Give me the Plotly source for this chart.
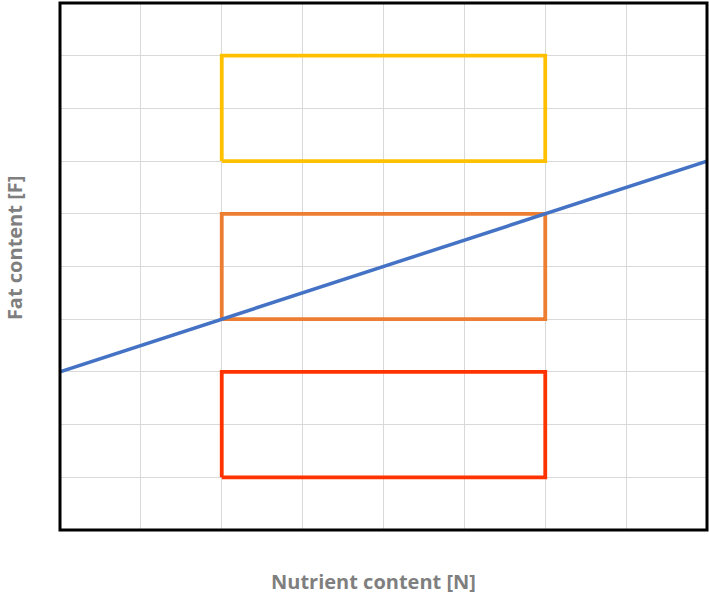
import plotly.graph_objects as go

# zones (x0, x1, y0, y1) and couleurs
zone_names = ["high", "mid", "low"]
zone_x0 = [2, 2, 2]
zone_x1 = [6, 6, 6]
zone_y0 = [7, 4, 1]
zone_y1 = [9, 6, 3]
zone_colors = ["#FFC000", "#ED7D31", "#FF3300"]

line_x = [0, 8]
line_y = [3, 7]

fig = go.Figure()

for name, x0, x1, y0, y1, c in zip(zone_names, zone_x0, zone_x1, zone_y0, zone_y1, zone_colors):
    fig.add_trace(go.Scatter(
        x=[x0, x1, x1, x0, x0],
        y=[y0, y0, y1, y1, y0],
        mode="lines",
        line=dict(color=c, width=3.8),
        name=name,
        hoverinfo="skip",
    ))

fig.add_trace(go.Scatter(
    x=line_x, y=line_y, mode="lines",
    line=dict(color="#4472C4", width=3.5),
    name="limit",
    cliponaxis=False,
))

grid = dict(showgrid=True, gridcolor="#D9D9D9", gridwidth=1.3,
            showticklabels=False, zeroline=False, ticks="",
            showline=False, mirror=False)

fig.update_xaxes(range=[0, 8], dtick=1, **grid)
fig.update_yaxes(range=[0, 10], dtick=1, **grid)

# cadre noir
fig.add_shape(type="rect", xref="paper", yref="paper", x0=0, x1=1, y0=0, y1=1,
              line=dict(color="black", width=3), layer="above")

title_font = dict(family="Open Sans", size=20, color="#7F7F7F")
fig.add_annotation(text="<b>Nutrient content [N]</b>", xref="paper", yref="paper",
                   x=0.485, y=-0.068, yanchor="top", showarrow=False, font=title_font)
fig.add_annotation(text="<b>Fat content [F]</b>", xref="paper", yref="paper",
                   x=-0.071, xanchor="center", y=0.535, textangle=-90,
                   showarrow=False, font=title_font)

fig.update_layout(
    width=709, height=595,
    margin=dict(l=60, r=2, t=3, b=65),
    plot_bgcolor="white", paper_bgcolor="white",
    showlegend=False,
)

# pas de marge du body
fig.write_html("out.html", config={"displayModeBar": False},
               post_script="document.body.style.margin='0';")
